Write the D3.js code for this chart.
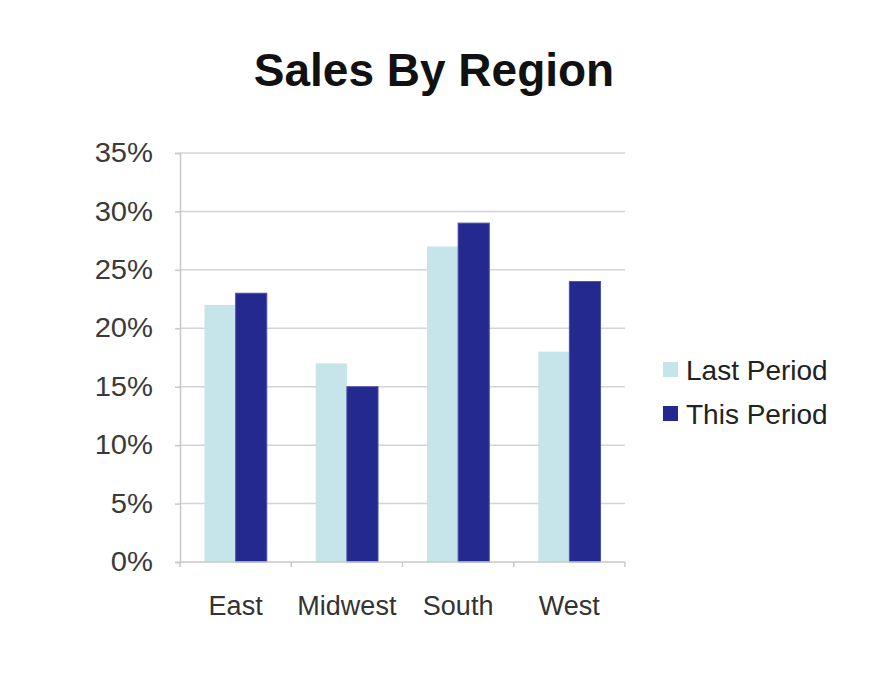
<!DOCTYPE html>
<html>
<head>
<meta charset="utf-8">
<script src="https://cdn.jsdelivr.net/npm/d3@7"></script>
<style>
  body { margin: 0; background: #fff; }
  svg { font-family: "Liberation Sans", Arial, sans-serif; }
</style>
</head>
<body>
<svg width="882" height="690"></svg>
<script>
// chart values
var regions = ['East', 'Midwest', 'South', 'West'];
var seriesNames = ['Last Period', 'This Period'];
var lastPeriod = [22, 17, 27, 18];
var thisPeriod = [23, 15, 29, 24];
var yTicks = [0, 5, 10, 15, 20, 25, 30, 35];

var colors = { 'Last Period': '#c6e5ea', 'This Period': '#23298f' };

// set the dimensions and margins of the graph
var margin = { top: 153, left: 180 };
var width = 445;
var height = 409;

var rows = regions.map(function (r, i) {
    return { region: r, values: [
        { key: 'Last Period', value: lastPeriod[i] },
        { key: 'This Period', value: thisPeriod[i] }
    ] };
});

var x0 = d3.scaleBand().domain(regions).range([0, width]).paddingInner(0.44).paddingOuter(0.22);
var x1 = d3.scaleBand().domain(seriesNames).range([0, x0.bandwidth()]);
var y = d3.scaleLinear().domain([0, 35]).range([height, 0]);

var svg = d3.select('svg');

svg.append('text')
    .attr('x', 434)
    .attr('y', 86)
    .attr('text-anchor', 'middle')
    .style('font-size', '46px')
    .style('font-weight', 'bold')
    .style('fill', '#111')
    .text('Sales By Region');

var graph = svg.append('g')
    .attr('transform', 'translate(' + margin.left + ',' + margin.top + ')');

// gridlines
graph.append('g')
    .selectAll('line')
    .data(yTicks.filter(function (d) { return d > 0; }))
    .enter().append('line')
    .attr('x1', 0)
    .attr('x2', width)
    .attr('y1', function (d) { return y(d); })
    .attr('y2', function (d) { return y(d); })
    .style('stroke', '#d4d4d4')
    .style('stroke-width', 1.5);

// y axis
var yAxis = graph.append('g')
    .call(d3.axisLeft(y).tickValues(yTicks).tickSize(5).tickPadding(20)
        .tickFormat(function (d) { return d + '%'; }));
yAxis.select('.domain').style('stroke', '#c8c8c8').style('stroke-width', 1.5);
yAxis.selectAll('.tick line').style('stroke', '#c8c8c8').style('stroke-width', 1.5);
yAxis.selectAll('text')
    .style('font-size', '27px')
    .style('fill', '#3a3a3a')
    .attr('transform', 'scale(1.08,1)');

// bars
var groups = graph.selectAll('.region')
    .data(rows)
    .enter().append('g')
    .attr('class', 'region')
    .attr('transform', function (d) { return 'translate(' + x0(d.region) + ',0)'; });

groups.selectAll('rect')
    .data(function (d) { return d.values; })
    .enter().append('rect')
    .attr('x', function (d) { return x1(d.key); })
    .attr('width', x1.bandwidth())
    .attr('y', function (d) { return y(d.value); })
    .attr('height', function (d) { return height - y(d.value); })
    .style('fill', function (d) { return colors[d.key]; })
    .style('stroke', function (d) { return d.key === 'This Period' ? '#4c52a8' : 'none'; })
    .style('stroke-width', 1);

// x axis
var xAxisG = graph.append('g')
    .attr('transform', 'translate(0,' + height + ')');
xAxisG.append('line')
    .attr('x1', 0).attr('x2', width)
    .style('stroke', '#c8c8c8').style('stroke-width', 1.5);
var bounds = regions.map(function (r) { return x0(r) - x0.step() * x0.paddingInner() / 2; });
bounds.push(width);
xAxisG.selectAll('.xtick')
    .data(bounds)
    .enter().append('line')
    .attr('x1', function (d) { return d; })
    .attr('x2', function (d) { return d; })
    .attr('y1', 0).attr('y2', 5)
    .style('stroke', '#c8c8c8').style('stroke-width', 1.5);
xAxisG.selectAll('.xlabel')
    .data(regions)
    .enter().append('text')
    .attr('x', function (d) { return x0(d) + x0.bandwidth() / 2; })
    .attr('y', 53)
    .attr('text-anchor', 'middle')
    .style('font-size', '27px')
    .style('fill', '#333')
    .text(function (d) { return d; });

// legend
var legend = svg.append('g')
    .attr('transform', 'translate(663,362)');
var items = legend.selectAll('.item')
    .data(seriesNames)
    .enter().append('g')
    .attr('transform', function (d, i) { return 'translate(0,' + (i * 44) + ')'; });
items.append('rect')
    .attr('width', 15).attr('height', 15)
    .style('fill', function (d) { return colors[d]; });
items.append('text')
    .attr('x', 23)
    .attr('y', 18)
    .style('font-size', '28px')
    .style('fill', '#222')
    .text(function (d) { return d; });
</script>
</body>
</html>
